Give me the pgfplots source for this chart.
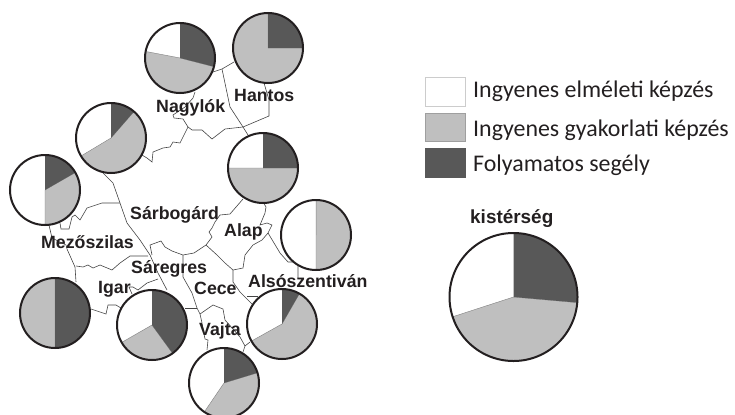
\documentclass[border=0pt]{standalone}
\usepackage{fontspec}
\setmainfont{Liberation Sans}
\newfontfamily\legendfont{Carlito}
\usepackage{pgfplots}
\usepackage{pgfplotstable}
\pgfplotsset{compat=1.18}
\definecolor{dk}{HTML}{585858}
\definecolor{gr}{HTML}{BFBFBF}
\definecolor{ink}{HTML}{231F20}
\definecolor{mapline}{HTML}{444444}
\tikzset{
  map/.style={mapline, line width=0.6bp},
  place/.style={anchor=base west, inner sep=0pt, font=\fontsize{17.8}{20}\selectfont\bfseries, text=ink},
  leg/.style={anchor=base west, inner sep=0pt, font=\legendfont\fontsize{24}{26}\selectfont, text=ink},
}

% pie positions in image pixels, shares in percent
\pgfplotstableread{
x y r dark gray white
180 58 35 29.0 49.0 22.0
111 138 35 11.4 55.0 33.6
45 190 35 16.7 33.3 50.0
268 48 35 25.0 75.0 0.0
263 168 35 25.0 50.0 25.0
316 235 35 0.0 50.0 50.0
282 324 35 8.3 58.6 33.1
224 383 35 20.3 39.2 40.5
55 313 35 50.0 50.0 0.0
152 325 35 40.0 26.7 33.3
513.5 297 64 26.4 43.6 30.0
}\pies

% one pie: dark from 12 o'clock clockwise, then gray, white is the rest
\pgfdeclareplotmark{pie}{%
  \pgfmathsetmacro\angA{90-3.6*\pdark}%
  \pgfmathsetmacro\angB{\angA-3.6*\pgray}%
  \pgfsetfillcolor{white}%
  \pgfpathcircle{\pgfpointorigin}{\prad bp}\pgfusepath{fill}%
  \pgfsetfillcolor{gr}\pgfsetstrokecolor{gray}\pgfsetlinewidth{0.4bp}%
  \pgfpathmoveto{\pgfpointorigin}%
  \pgfpathlineto{\pgfpointpolar{\angA}{\prad bp}}%
  \pgfpatharc{\angA}{\angB}{\prad bp}%
  \pgfpathclose\pgfusepath{fill,stroke}%
  \pgfsetfillcolor{dk}%
  \pgfpathmoveto{\pgfpointorigin}%
  \pgfpathlineto{\pgfpointpolar{90}{\prad bp}}%
  \pgfpatharc{90}{\angA}{\prad bp}%
  \pgfpathclose\pgfusepath{fill}%
  \pgfsetstrokecolor{ink}\pgfsetlinewidth{2bp}%
  \pgfpathcircle{\pgfpointorigin}{\prad bp}\pgfusepath{stroke}%
}

\begin{document}
\begin{tikzpicture}[x=1bp,y=1bp]
\useasboundingbox (0,0) rectangle (735,414);
\begin{axis}[
  at={(0,0)}, anchor=south west,
  width=735bp, height=414bp, scale only axis,
  xmin=0, xmax=735, ymin=0, ymax=414, y dir=reverse,
  hide axis, clip marker paths=true,
]
% map boundaries
\addplot[map] coordinates {(195,92) (193,98) (185,107) (173,115) (174,118) (183,119) (188,127) (180,143) (173,142) (170,147) (163,148) (153,152) (152,162) (147,158) (142,155)};
\addplot[map] coordinates {(188,127) (192,130) (202,130) (212,139) (225,129) (243,127) (269,116) (269,100) (264,83)};
\addplot[map] coordinates {(213,72) (222,69) (234,62)};
\addplot[map] coordinates {(222,69) (230,107) (243,127) (248,135)};
\addplot[map] coordinates {(243,199) (230,214) (220,215) (215,222) (212,228) (209,232) (212,237) (206,245) (194,253) (183,255) (172,251) (165,247) (161,241) (150,245) (152,255)};
\addplot[map] coordinates {(103,173) (113,183) (120,203) (127,223) (140,240) (150,255) (158,273) (167,290)};
\addplot[map] coordinates {(120,203) (102,203) (87,208) (80,220) (75,215) (72,217) (69,229) (61,229) (60,223)};
\addplot[map] coordinates {(49,225) (52,238) (66,245) (67,249) (75,267) (76,282)};
\addplot[map] coordinates {(76,266) (83,267) (88,265) (93,268) (100,265) (112,270) (120,263) (130,256) (148,256)};
\addplot[map] coordinates {(158,279) (147,283) (138,290) (133,287) (129,287) (132,294)};
\addplot[map] coordinates {(91,309) (106,314) (108,305) (116,305) (121,308)};
\addplot[map] coordinates {(183,255) (183,277) (192,293) (197,308) (200,314)};
\addplot[map] coordinates {(185,308) (197,308)};
\addplot[map] coordinates {(200,314) (213,305) (223,309) (225,320) (240,337) (245,346) (243,352)};
\addplot[map] coordinates {(245,346) (250,342)};
\addplot[map] coordinates {(200,314) (202,323) (205,339) (208,340) (207,350)};
\addplot[map] coordinates {(206,245) (217,255) (225,263) (233,270) (243,268) (245,255) (253,245) (262,240) (268,233) (272,225) (267,223) (260,225) (265,213) (266,207) (263,202)};
\addplot[map] coordinates {(268,233) (280,253) (288,262) (298,262) (298,278)};
\addplot[map] coordinates {(233,270) (233,282) (240,292) (252,304)};
\addplot[map] coordinates {(247,296) (258,296)};
% pies
\addplot[scatter, only marks, mark=pie,
  scatter/@pre marker code/.code={}, scatter/@post marker code/.code={},
  visualization depends on={\thisrow{r}\as\prad},
  visualization depends on={\thisrow{dark}\as\pdark},
  visualization depends on={\thisrow{gray}\as\pgray},
] table[x=x, y=y] {\pies};
% legend swatches
\addplot[fill=white, draw=gray!40, line width=0.8bp] coordinates {(425,77) (465,77) (465,106) (425,106)} -- cycle;
\addplot[fill=gr, draw=gray!75, line width=0.5bp] coordinates {(425,113) (465,113) (465,141) (425,141)} -- cycle;
\addplot[fill=dk, draw=dk, line width=0.5bp] coordinates {(425,148) (465,148) (465,177) (425,177)} -- cycle;
\node[leg] at (axis cs:473,97) {Ingyenes elméleti képzés};
\node[leg] at (axis cs:473,136) {Ingyenes gyakorlati képzés};
\node[leg] at (axis cs:473,171) {Folyamatos segély};
% names
\node[place] at (axis cs:156,112) {Nagylók};
\node[place] at (axis cs:234,101) {Hantos};
\node[place] at (axis cs:130,219) {Sárbogárd};
\node[place] at (axis cs:224,236) {Alap};
\node[place] at (axis cs:41,248) {Mezőszilas};
\node[place] at (axis cs:131,273) {Sáregres};
\node[place] at (axis cs:98,293) {Igar};
\node[place] at (axis cs:194,294) {Cece};
\node[place] at (axis cs:248,287) {Alsószentiván};
\node[place] at (axis cs:199,335) {Vajta};
\node[place, font=\fontsize{19}{22}\selectfont\bfseries] at (axis cs:470,223) {kistérség};
\end{axis}
\end{tikzpicture}
\end{document}
